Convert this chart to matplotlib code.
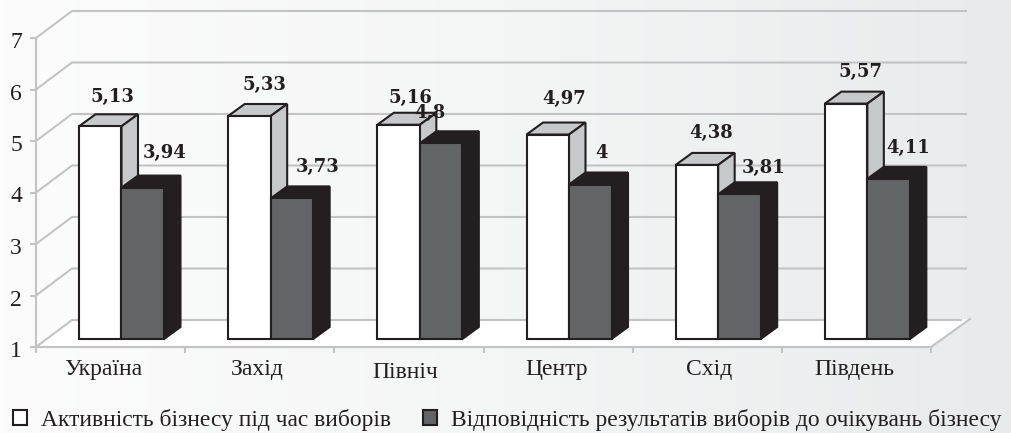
import numpy as np
import matplotlib
matplotlib.use('Agg')
import matplotlib.pyplot as plt
from matplotlib.patches import Polygon
from matplotlib.transforms import ScaledTranslation

# Values
categories = ['Україна', 'Захід', 'Північ', 'Центр', 'Схід', 'Південь']
activity = [5.13, 5.33, 5.16, 4.97, 4.38, 5.57]
match = [3.94, 3.73, 4.8, 4, 3.81, 4.11]
activity_labels = ['5,13', '5,33', '5,16', '4,97', '4,38', '5,57']
match_labels = ['3,94', '3,73', '4,8', '4', '3,81', '4,11']
y_ticks = [1, 2, 3, 4, 5, 6, 7]
series_names = ['Активність бізнесу під час виборів',
                'Відповідність результатів виборів до очікувань бізнесу']

# Label nudges in pixels, relative to the top of each bar
activity_nudge = [(12, 29), (15, 31), (12, 27), (16, 36), (14, 32), (14, 32)]
match_nudge = [(22, 35), (26, 31), (-11, 30), (11, 31), (24, 26), (20, 31)]
cat_nudge = [(-7, -23), (-3, -23), (-4, -26), (-1, -23), (2, -23), (-2, -23)]

W, H = 1011, 433
fig = plt.figure(figsize=(W / 100, H / 100), dpi=100)

# Paper background fades to grey on the right
bg = fig.add_axes([0, 0, 1, 1], zorder=-1)
bg.imshow(np.linspace(0, 1, 256).reshape(1, -1), aspect='auto', cmap=matplotlib.colors.LinearSegmentedColormap.from_list(
    'paper', ['#fcfcfc', '#f4f5f5', '#e9eaeb']))
bg.axis('off')

ax = fig.add_axes([36 / W, (H - 347) / H, 895 / W, 309 / H])
ax.patch.set_alpha(0)
ax.set_xlim(0, 6)
ax.set_ylim(1, 7)

# Pixel sizes in data units
px = 6 / 895
py = 6 / 309
wall_dx, wall_dy = 36 * px, 27 * py
bar_dx, bar_dy = 16.5 * px, 12 * py
lift = 8 * py
bar_w = 42.5 * px
bar_off = 43 * px
grid_color = '#c2c3c4'

# Floor, side walls and gridlines
ax.add_patch(Polygon([(0, 1), (6, 1), (6 + 39 * px, 1 + 28 * py), (wall_dx, 1 + wall_dy)],
                     fc='white', ec='none', clip_on=False, zorder=1))
ax.plot([6, 6 + 39 * px], [1, 1 + 28 * py], color=grid_color, lw=1.5, clip_on=False, zorder=2)
for t in y_ticks:
    end = 6 + wall_dx - 1 * px if t > 1 else 6 + 30 * px
    ax.plot([0, wall_dx, end], [t, t + wall_dy, t + wall_dy], color=grid_color, lw=1.5,
            clip_on=False, zorder=2)

for s in ['top', 'right']:
    ax.spines[s].set_visible(False)
for s in ['left', 'bottom']:
    ax.spines[s].set_color(grid_color)
    ax.spines[s].set_linewidth(1.5)

ax.set_yticks(y_ticks)
ax.set_xticks(range(7))
ax.set_xticklabels([])
ax.tick_params(axis='both', color=grid_color, width=1.5, length=4)
ax.tick_params(axis='y', labelsize=17, pad=6, colors=grid_color, labelcolor='#231f20')
for lab in ax.get_yticklabels():
    lab.set_fontfamily('Liberation Serif')
    lab.set_transform(lab.get_transform() + ScaledTranslation(0, -2 / 100, fig.dpi_scale_trans))


def draw_bars(values, start, face, side, edge, lw, label, z):
    x = np.arange(len(values)) + start
    ax.bar(x, np.array(values) - 1, bar_w, bottom=1 + lift, align='edge', color=face,
           edgecolor=edge, linewidth=lw, label=label, clip_on=False, zorder=z + 1)
    for xi, v in zip(x, values):
        top = v + lift
        ax.add_patch(Polygon([(xi, top), (xi + bar_dx, top + bar_dy),
                              (xi + bar_w + bar_dx, top + bar_dy), (xi + bar_w, top)],
                             fc=side, ec=edge, lw=lw, clip_on=False, zorder=z))
        ax.add_patch(Polygon([(xi + bar_w, top), (xi + bar_w + bar_dx, top + bar_dy),
                              (xi + bar_w + bar_dx, 1 + lift + bar_dy), (xi + bar_w, 1 + lift)],
                             fc=side, ec=edge, lw=lw, clip_on=False, zorder=z))
    return x


x1 = draw_bars(activity, bar_off, 'white', '#c7c8ca', '#231f20', 1.5, series_names[0], 3)
x2 = draw_bars(match, bar_off + bar_w, '#636466', '#231f20', '#231f20', 1.5, series_names[1], 5)

# Value labels
def value_labels(xs, values, texts, nudges):
    for xi, v, t, (nx, ny) in zip(xs, values, texts, nudges):
        ax.annotate(t, (xi + bar_w / 2, v + lift), xytext=(nx, ny), textcoords='offset pixels',
                    ha='center', va='center', family='DejaVu Serif', weight='bold', fontsize=13,
                    color='#231f20', zorder=10, annotation_clip=False)


value_labels(x1, activity, activity_labels, activity_nudge)
value_labels(x2, match, match_labels, match_nudge)

# Category labels
for i, c in enumerate(categories):
    ax.annotate(c, (i + 0.5, 1), xytext=cat_nudge[i], textcoords='offset pixels', ha='center', va='center',
                family='Liberation Serif', fontsize=17, color='#231f20', annotation_clip=False)

leg = ax.legend(loc='lower left', bbox_to_anchor=(13 / W, 2 / H), bbox_transform=fig.transFigure, ncols=2,
                frameon=False, handlelength=0.6, handleheight=0.6, handletextpad=0.6, columnspacing=1.35,
                borderpad=0, borderaxespad=0, prop={'family': 'Liberation Serif', 'size': 16.9})
for text in leg.get_texts():
    text.set_color('#231f20')

fig.savefig('out.png', dpi=100)
